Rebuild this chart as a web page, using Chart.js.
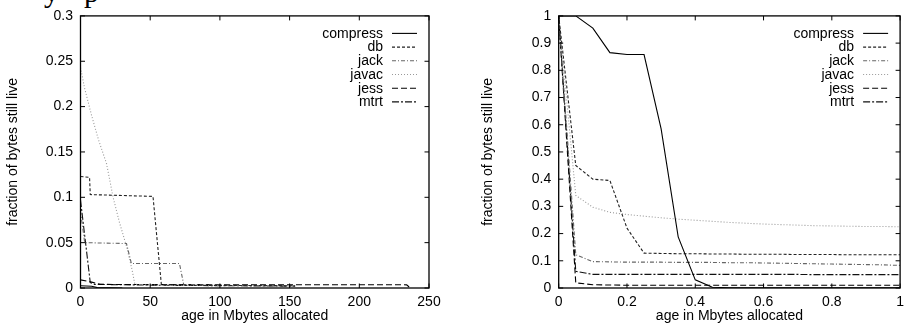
<!DOCTYPE html>
<html>
<head>
<meta charset="utf-8">
<script src="https://cdn.jsdelivr.net/npm/chart.js@4.4.0/dist/chart.umd.min.js"></script>
<style>
  body { margin: 0; background: #fff; width: 910px; height: 327px; overflow: hidden; position: relative; }
  canvas { position: absolute; top: 0; }
  #left { left: 0; }
  #right { left: 455px; }
  .cut { position: absolute; top: -23px; font: 30px "Liberation Serif", serif; line-height: 30px; color: #000; }
</style>
</head>
<body>
<span class="cut" style="left:44px">y</span>
<span class="cut" style="left:84px">p</span>
<canvas id="left" width="455" height="327"></canvas>
<canvas id="right" width="455" height="327"></canvas>
<script>
// Benchmarks
const names = ["compress", "db", "jack", "javac", "jess", "mtrt"];

// Gráfico da esquerda (0 - 250 Mbytes)
const leftXTicks = [0, 50, 100, 150, 200, 250];
const leftYTicks = [0, 0.05, 0.1, 0.15, 0.2, 0.25, 0.3];

const compressLX = [0, 8, 12, 30];
const compressLY = [0.0025, 0.002, 0.0005, 0];
const dbLX = [0, 6.5, 7, 52, 58, 80, 154];
const dbLY = [0.123, 0.122, 0.103, 0.101, 0.004, 0.003, 0.0025];
const jackLX = [0, 3, 33, 36.5, 71, 74, 100, 154];
const jackLY = [0.085, 0.05, 0.049, 0.027, 0.027, 0.004, 0.003, 0.0025];
const javacLX = [0, 3, 8, 13, 18.7, 23.4, 28, 33, 37, 39, 60, 154];
const javacLY = [0.243, 0.22, 0.19, 0.163, 0.137, 0.1, 0.072, 0.046, 0.02, 0.004, 0.003, 0.002];
const jessLX = [0, 8, 14, 60, 150, 234, 236.5];
const jessLY = [0.009, 0.0065, 0.004, 0.0037, 0.0036, 0.0035, 0];
const mtrtLX = [0, 7, 10, 60, 154];
const mtrtLY = [0.097, 0.006, 0.004, 0.003, 0.002];

// Gráfico da direita (0 - 1 Mbyte)
const rightXTicks = [0, 0.2, 0.4, 0.6, 0.8, 1];
const rightYTicks = [0, 0.1, 0.2, 0.3, 0.4, 0.5, 0.6, 0.7, 0.8, 0.9, 1];
const rightX = [0, 0.05, 0.1, 0.15, 0.2, 0.25, 0.3, 0.35, 0.4, 0.45, 0.5,
  0.55, 0.6, 0.65, 0.7, 0.75, 0.8, 0.85, 0.9, 0.95, 1];
const compressR = [1, 1, 0.955, 0.865, 0.858, 0.858, 0.585, 0.188, 0.03, 0.003, 0.001,
  0.001, 0.001, 0.001, 0.001, 0.001, 0.001, 0.001, 0.001, 0.001, 0.001];
const dbR = [1, 0.45, 0.4, 0.395, 0.22, 0.128, 0.127, 0.126, 0.126, 0.125, 0.125,
  0.124, 0.124, 0.124, 0.123, 0.123, 0.123, 0.122, 0.122, 0.122, 0.122];
const jackR = [1, 0.122, 0.097, 0.096, 0.095, 0.095, 0.095, 0.094, 0.094, 0.094, 0.093,
  0.093, 0.092, 0.091, 0.09, 0.089, 0.088, 0.087, 0.086, 0.085, 0.083];
const javacR = [1, 0.34, 0.297, 0.278, 0.27, 0.264, 0.258, 0.253, 0.249, 0.245, 0.241,
  0.238, 0.235, 0.233, 0.231, 0.229, 0.228, 0.227, 0.226, 0.226, 0.225];
const jessR = [1, 0.019, 0.012, 0.011, 0.01, 0.01, 0.01, 0.01, 0.01, 0.01, 0.01,
  0.01, 0.01, 0.01, 0.01, 0.01, 0.01, 0.01, 0.01, 0.01, 0.01];
const mtrtR = [1, 0.061, 0.05, 0.05, 0.05, 0.05, 0.05, 0.05, 0.05, 0.05, 0.05,
  0.05, 0.05, 0.05, 0.05, 0.049, 0.049, 0.049, 0.049, 0.049, 0.049];

// Estilos de linha (estilo gnuplot)
const lineColors = ["#000", "#222", "#666", "#999", "#000", "#111"];
const lineDashes = [[], [3, 2], [4, 2, 1, 2], [1, 2], [6, 3], [7, 2, 2, 2]];

Chart.defaults.font.family = "'Liberation Sans', Arial, sans-serif";
Chart.defaults.font.size = 14;
Chart.defaults.color = "#000";

const pts = (xs, ys) => xs.map((x, i) => ({ x: x, y: ys[i] }));

function makeDatasets(series) {
  return series.map((data, i) => ({
    label: names[i],
    data: data,
    borderColor: lineColors[i],
    borderDash: lineDashes[i],
    borderWidth: 1.1,
    pointRadius: 0,
    tension: 0,
    fill: false,
  }));
}

// Moldura com marcas para dentro, como no gnuplot
const frame = {
  id: "frame",
  afterDatasetsDraw(chart) {
    const { ctx, chartArea: a, scales } = chart;
    const len = 4.5;
    ctx.save();
    ctx.strokeStyle = "#000";
    ctx.lineWidth = 1;
    ctx.beginPath();
    scales.x.ticks.forEach((t) => {
      const px = scales.x.getPixelForValue(t.value);
      ctx.moveTo(px, a.bottom);
      ctx.lineTo(px, a.bottom - len);
      ctx.moveTo(px, a.top);
      ctx.lineTo(px, a.top + len);
    });
    scales.y.ticks.forEach((t) => {
      const py = scales.y.getPixelForValue(t.value);
      ctx.moveTo(a.left, py);
      ctx.lineTo(a.left + len, py);
      ctx.moveTo(a.right, py);
      ctx.lineTo(a.right - len, py);
    });
    ctx.stroke();
    ctx.lineWidth = 1.3;
    ctx.strokeRect(a.left, a.top, a.right - a.left, a.bottom - a.top);
    ctx.restore();
  },
};

// Legenda: texto alinhado à direita e amostra da linha
const keyBox = {
  id: "keyBox",
  afterDraw(chart) {
    const { ctx, chartArea: a } = chart;
    ctx.save();
    ctx.font = "14px 'Liberation Sans', Arial, sans-serif";
    ctx.textAlign = "right";
    ctx.textBaseline = "middle";
    chart.data.datasets.forEach((ds, i) => {
      const y = a.top + 17.5 + i * 13.7;
      ctx.fillStyle = "#000";
      ctx.fillText(ds.label, a.right - 46, y + 0.5);
      ctx.strokeStyle = ds.borderColor;
      ctx.lineWidth = 1.1;
      ctx.setLineDash(ds.borderDash);
      ctx.beginPath();
      ctx.moveTo(a.right - 37, y);
      ctx.lineTo(a.right - 12, y);
      ctx.stroke();
    });
    ctx.restore();
  },
};

function makeChart(id, datasets, xTicks, yTicks, yWidth, yTitlePad, padRight) {
  return new Chart(document.getElementById(id), {
    type: "line",
    data: { datasets: datasets },
    plugins: [frame, keyBox],
    options: {
      responsive: false,
      animation: false,
      layout: { padding: { top: 15, right: padRight, bottom: 0, left: 0 } },
      plugins: { legend: { display: false }, tooltip: { enabled: false } },
      scales: {
        x: {
          type: "linear",
          min: xTicks[0],
          max: xTicks[xTicks.length - 1],
          afterBuildTicks: (s) => { s.ticks = xTicks.map((v) => ({ value: v })); },
          afterFit: (s) => { s.height = 39; },
          grid: { display: false, drawTicks: false },
          border: { display: false },
          ticks: { padding: 6, maxRotation: 0, callback: (v) => String(v) },
          title: { display: true, text: "age in Mbytes allocated", padding: { top: 0, bottom: 2.6 } },
        },
        y: {
          min: yTicks[0],
          max: yTicks[yTicks.length - 1],
          afterBuildTicks: (s) => { s.ticks = yTicks.map((v) => ({ value: v })); },
          afterFit: (s) => { s.width = yWidth; },
          grid: { display: false, drawTicks: false },
          border: { display: false },
          ticks: { padding: 7.5, callback: (v) => String(+v.toFixed(2)) },
          title: { display: true, text: "fraction of bytes still live", padding: { top: yTitlePad, bottom: 0 } },
        },
      },
    },
  });
}

const leftChart = makeChart("left", makeDatasets([
  pts(compressLX, compressLY),
  pts(dbLX, dbLY),
  pts(jackLX, jackLY),
  pts(javacLX, javacLY),
  pts(jessLX, jessLY),
  pts(mtrtLX, mtrtLY),
]), leftXTicks, leftYTicks, 80.5, 5, 26);

const rightChart = makeChart("right", makeDatasets([
  pts(rightX, compressR),
  pts(rightX, dbR),
  pts(rightX, jackR),
  pts(rightX, javacR),
  pts(rightX, jessR),
  pts(rightX, mtrtR),
]), rightXTicks, rightYTicks, 103.7, 25, 4);
</script>
</body>
</html>
